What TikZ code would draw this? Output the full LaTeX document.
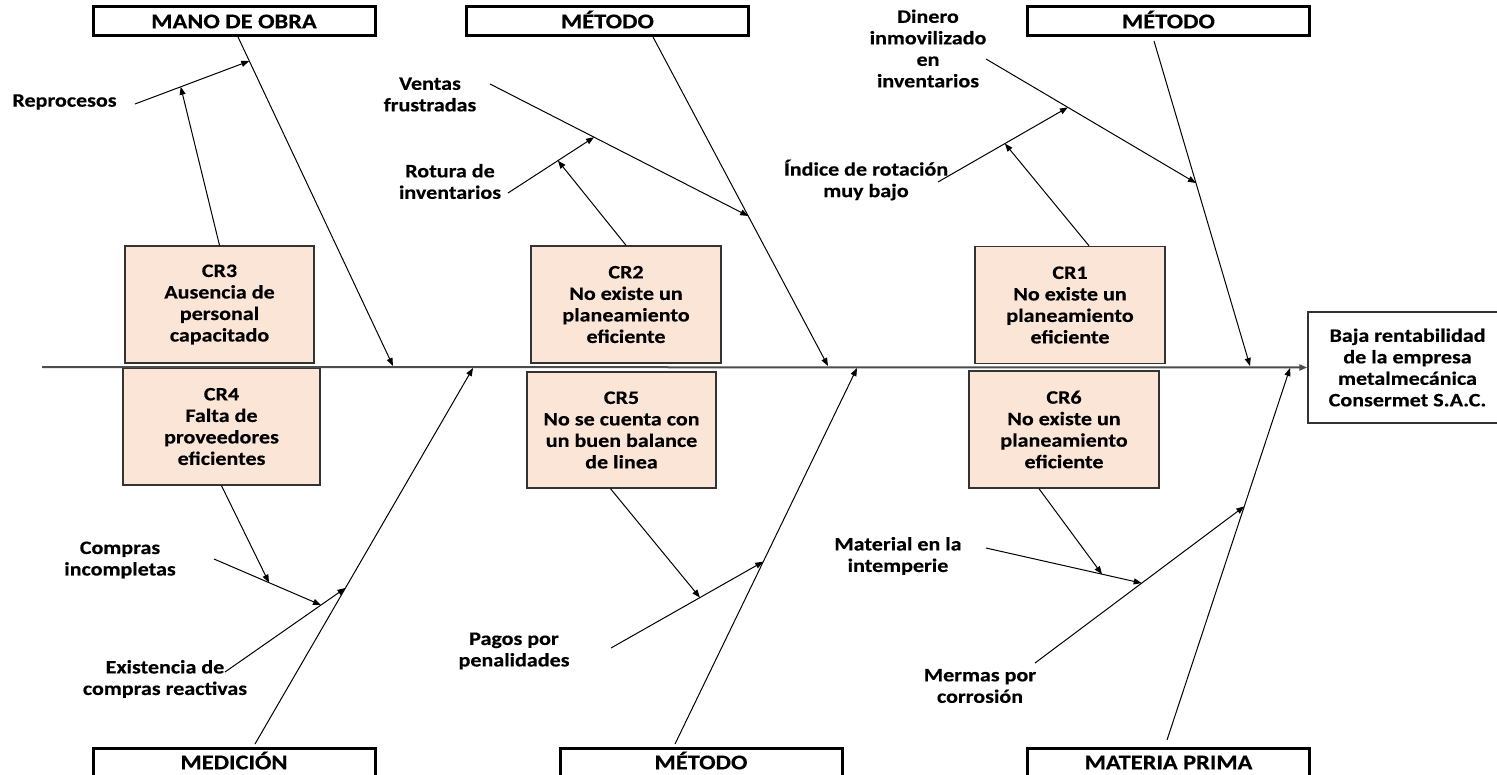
\documentclass[tikz,border=0pt]{standalone}
\usepackage{fontspec}
\setmainfont{Carlito}[FakeStretch=1.16, FakeBold=0.4]
\usetikzlibrary{arrows.meta,calc}
\definecolor{peach}{HTML}{FBE5D6}
\newcommand\lblfont{\fontsize{9.5}{10.75}\selectfont\bfseries}
\newcommand\hdrfont{\fontsize{10.5}{12}\selectfont\bfseries}

\begin{document}
\begin{tikzpicture}[x=0.5pt,y=-0.5pt,
  header/.style={draw, line width=1.5pt, minimum width=141pt, minimum height=14.5pt,
    inner sep=0pt, text height=6.8pt, text depth=0pt, font=\hdrfont},
  cause/.style={draw=black!80, line width=0.7pt, fill=peach, minimum height=58.5pt,
    inner sep=0pt, align=center, font=\lblfont},
  effect/.style={draw=black!80, line width=0.7pt, minimum width=99.5pt, minimum height=55.5pt,
    inner sep=0pt, align=center, font=\lblfont},
  lbl/.style={inner sep=0pt, align=center, font=\lblfont},
  bone/.style={line width=0.5pt, -{Triangle[length=4pt,width=3pt]}},
  spine/.style={line width=1pt, draw=black!70, -{Triangle[length=4pt,width=3pt]}},
]
\useasboundingbox (0,0) rectangle (1497,775);
\clip (0,0) rectangle (1497,775);

% category headers
\node[header] (mo)   at (234,21.5)    {MANO DE OBRA};
\node[header] (met1) at (607.5,21.5)  {MÉTODO};
\node[header] (met2) at (1168.5,21.5) {MÉTODO};
\node[header] (med)  at (234,762.5)   {MEDICIÓN};
\node[header] (met3) at (701,762.5)   {MÉTODO};
\node[header] (mp)   at (1168.5,762.5){MATERIA PRIMA};

% root causes
\node[cause, minimum width=94.5pt] (cr3) at (219.5,304.5) {CR3\\Ausencia de\\personal\\capacitado};
\node[cause, minimum width=98.5pt] (cr4) at (221.5,426.5) {CR4\\Falta de\\proveedores\\eficientes};
\node[cause, minimum width=95pt]   (cr2) at (626,304.5)   {CR2\\No existe un\\planeamiento\\eficiente};
\node[cause, minimum width=94.5pt, minimum height=58pt] (cr5) at (621.5,430) {CR5\\No se cuenta con\\un buen balance\\de linea};
\node[cause, minimum width=95pt]   (cr1) at (1070,305)    {CR1\\No existe un\\planeamiento\\eficiente};
\node[cause, minimum width=95pt]   (cr6) at (1064,429.5)  {CR6\\No existe un\\planeamiento\\eficiente};

% effect
\node[effect] (eff) at (1407.5,367.5) {Baja rentabilidad\\de la empresa\\metalmecánica\\Consermet S.A.C.};

% sub-cause labels
\node[lbl] (repro)    at (64.5,102) {Reprocesos};
\node[lbl] (ventas)   at (430,94.5) {Ventas\\frustradas};
\node[lbl] (rotura)   at (450,181.5) {Rotura de\\inventarios};
\node[lbl] (dinero)   at (928,48.5) {Dinero\\inmovilizado\\en\\inventarios};
\node[lbl] (indice)   at (866,180) {Índice de rotación\\muy bajo};
\node[lbl] (compras)  at (120,560) {Compras\\incompletas};
\node[lbl] (exist)    at (165,679) {Existencia de\\compras reactivas};
\node[lbl] (pagos)    at (514,651) {Pagos por\\penalidades};
\node[lbl] (material) at (898,556) {Material en la\\intemperie};
\node[lbl] (mermas)   at (980,686) {Mermas por\\corrosión};

% spine
\coordinate (sp0) at (42,367);
\draw[spine] (sp0) -- (eff.west);

% main bones
\coordinate (b1s) at (238,37);   \coordinate (b1e) at (393,366);
\coordinate (b2s) at (653,37);   \coordinate (b2e) at (828,366);
\coordinate (b3s) at (1154,41);  \coordinate (b3e) at (1250,366);
\coordinate (b4s) at (255,744);  \coordinate (b4e) at (473,368);
\coordinate (b5s) at (675,744);  \coordinate (b5e) at (857,368);
\coordinate (b6s) at (1167,740); \coordinate (b6e) at (1290,368);
\foreach \b in {1,...,6} \draw[bone] (b\b s) -- (b\b e);

% mano de obra
\coordinate (r1s) at (135,104);
\coordinate (r1e) at ($(b1s)!0.073!(b1e)$);
\coordinate (r1m) at ($(r1s)!0.40!(r1e)$);
\draw[bone] (r1s) -- (r1e);
\draw[bone] (cr3.north) -- (r1m);

% metodo (centre)
\coordinate (v2s) at (490,84);
\coordinate (v2e) at ($(b2s)!0.544!(b2e)$);
\coordinate (ro2s) at (508,193);
\coordinate (ro2e) at ($(v2s)!0.403!(v2e)$);
\coordinate (ro2m) at ($(ro2s)!0.58!(ro2e)$);
\draw[bone] (v2s) -- (v2e);
\draw[bone] (ro2s) -- (ro2e);
\draw[bone] (cr2.north) -- (ro2m);

% metodo (right)
\coordinate (d3s) at (986,59);
\coordinate (d3e) at ($(b3s)!0.437!(b3e)$);
\coordinate (i3s) at (938,182);
\coordinate (i3e) at ($(d3s)!0.39!(d3e)$);
\coordinate (i3m) at ($(i3s)!0.515!(i3e)$);
\draw[bone] (d3s) -- (d3e);
\draw[bone] (i3s) -- (i3e);
\draw[bone] ($(cr1.north)+(19,0)$) -- (i3m);

% medicion
\coordinate (e4s) at (225,672);
\coordinate (e4e) at ($(b4s)!0.415!(b4e)$);
\coordinate (c4s) at (214,559);
\coordinate (c4e) at ($(e4s)!0.797!(e4e)$);
\coordinate (c4m) at ($(c4s)!0.514!(c4e)$);
\draw[bone] (e4s) -- (e4e);
\draw[bone] (c4s) -- (c4e);
\draw[bone] (cr4.south) -- (c4m);

% metodo (bottom)
\coordinate (p5s) at (611,648);
\coordinate (p5e) at ($(b5s)!0.485!(b5e)$);
\coordinate (p5m) at ($(p5s)!0.584!(p5e)$);
\draw[bone] (p5s) -- (p5e);
\draw[bone] ($(cr5.south)+(-11,0)$) -- (p5m);

% materia prima
\coordinate (m6s) at (1035,663);
\coordinate (m6e) at ($(b6s)!0.628!(b6e)$);
\coordinate (ma6s) at (986,548);
\coordinate (ma6e) at ($(m6s)!0.51!(m6e)$);
\coordinate (ma6m) at ($(ma6s)!0.745!(ma6e)$);
\draw[bone] (m6s) -- (m6e);
\draw[bone] (ma6s) -- (ma6e);
\draw[bone] ($(cr6.south)+(-25,0)$) -- (ma6m);
\end{tikzpicture}
\end{document}
